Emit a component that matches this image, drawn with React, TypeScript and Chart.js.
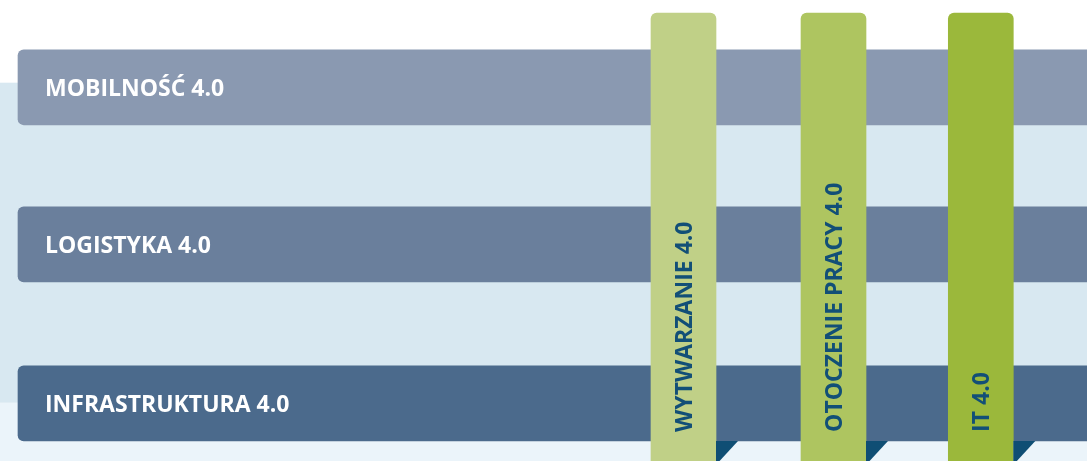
import React, { useEffect, useRef } from "react";
import { Chart, registerables } from "chart.js";

Chart.register(...registerables);

// Horizontal areas (rows)
const rowLabels = ["MOBILNOŚĆ 4.0", "LOGISTYKA 4.0", "INFRASTRUKTURA 4.0"];
const rowCenters = [87.3, 244.4, 403.4];
const rowStart = [18, 18, 18];
const rowEnd = [1087, 1087, 1087];
const rowColors = ["#8a99b1", "#6a7f9c", "#4b6a8c"];

// Vertical pillars
const pillarLabels = ["WYTWARZANIE 4.0", "OTOCZENIE PRACY 4.0", "IT 4.0"];
const pillarCenters = [683.5, 833.5, 980.8];
const pillarTop = [13, 13, 13];
const pillarBottom = [461, 461, 461];
const pillarColors = ["#c0d087", "#aec560", "#9bb83b"];

// Background bands
const bandFrom = [82.7, 402.8];
const bandTo = [402.8, 461];
const bandColors = ["#d8e8f1", "#ebf4fa"];

const CANVAS_W = 1087;
const CANVAS_H = 461;
const FONT = '700 23px "Open Sans"';
const CAP = 23 * 0.714;

const decorPlugin = {
  id: "decor",
  beforeDatasetsDraw(chart: any) {
    const { ctx, chartArea } = chart;
    const y = chart.scales.y;
    ctx.save();
    for (let i = 0; i < bandColors.length; i++) {
      const top = y.getPixelForValue(bandFrom[i]);
      const bot = y.getPixelForValue(bandTo[i]);
      ctx.fillStyle = bandColors[i];
      ctx.fillRect(chartArea.left, top, chartArea.right - chartArea.left, bot - top);
    }
    ctx.restore();
  },
  afterDatasetsDraw(chart: any) {
    const { ctx } = chart;
    const pillars = chart.getDatasetMeta(0).data;
    const rows = chart.getDatasetMeta(1).data;
    const lastRow: any = rows[rows.length - 1];
    const rowBottom = lastRow.y + Math.abs(lastRow.height) / 2;
    ctx.save();
    // shadow triangles under the bottom row, right of each pillar
    ctx.fillStyle = "#0f4e74";
    pillars.forEach((el: any) => {
      const right = el.x + Math.abs(el.width) / 2;
      ctx.beginPath();
      ctx.moveTo(right, rowBottom);
      ctx.lineTo(right + 22, rowBottom);
      ctx.lineTo(right, rowBottom + 24);
      ctx.closePath();
      ctx.fill();
    });
    // row labels
    ctx.font = FONT;
    ctx.fillStyle = "#ffffff";
    ctx.textAlign = "left";
    ctx.textBaseline = "alphabetic";
    rows.forEach((el: any, i: number) => {
      ctx.fillText(rowLabels[i], Math.min(el.base, el.x) + 27, el.y + CAP / 2);
    });
    // pillar labels (rotated)
    ctx.fillStyle = "#124f77";
    pillars.forEach((el: any, i: number) => {
      ctx.save();
      ctx.translate(el.x, rowBottom - 9);
      ctx.rotate(-Math.PI / 2);
      ctx.fillText(pillarLabels[i], 0, CAP / 2);
      ctx.restore();
    });
    ctx.restore();
  },
};

const hiddenLinear = (axis: string, max: number, reverse: boolean) => ({
  type: "linear",
  axis,
  min: 0,
  max,
  reverse,
  offset: false,
  grace: 0,
  display: false,
  grid: { offset: false },
});

export default function App() {
  const ref = useRef<HTMLCanvasElement | null>(null);
  useEffect(() => {
    document.body.style.margin = "0";
    const canvas = ref.current;
    if (!canvas) return;
    const chart = new Chart(canvas, {
      type: "bar",
      data: {
        datasets: [
          {
            label: "pillars",
            indexAxis: "x",
            xAxisID: "xv",
            yAxisID: "yv",
            data: pillarCenters.map((c, i) => ({ x: c, y: [pillarTop[i], pillarBottom[i]] })) as any,
            backgroundColor: pillarColors,
            barThickness: 65,
            grouped: false,
            borderSkipped: false,
            borderRadius: { topLeft: 6, topRight: 6, bottomLeft: 0, bottomRight: 0 },
            order: 0,
          } as any,
          {
            label: "areas",
            indexAxis: "y",
            xAxisID: "x",
            yAxisID: "y",
            data: rowCenters.map((c, i) => ({ y: c, x: [rowStart[i], rowEnd[i]] })) as any,
            backgroundColor: rowColors,
            barThickness: 75,
            grouped: false,
            borderSkipped: false,
            borderRadius: { topLeft: 6, bottomLeft: 6, topRight: 0, bottomRight: 0 },
            order: 1,
          } as any,
        ],
      },
      options: {
        animation: false,
        responsive: false,
        maintainAspectRatio: false,
        layout: { padding: 0 },
        plugins: { legend: { display: false }, tooltip: { enabled: false } },
        events: [],
        scales: {
          x: hiddenLinear("x", CANVAS_W, false),
          y: hiddenLinear("y", CANVAS_H, true),
          xv: hiddenLinear("x", CANVAS_W, false),
          yv: hiddenLinear("y", CANVAS_H, true),
        } as any,
      },
      plugins: [decorPlugin],
    });
    return () => chart.destroy();
  }, []);
  return (
    <div style={{ width: CANVAS_W, height: CANVAS_H, background: "#ffffff" }}>
      <canvas ref={ref} width={CANVAS_W} height={CANVAS_H} style={{ display: "block" }} />
    </div>
  );
}
